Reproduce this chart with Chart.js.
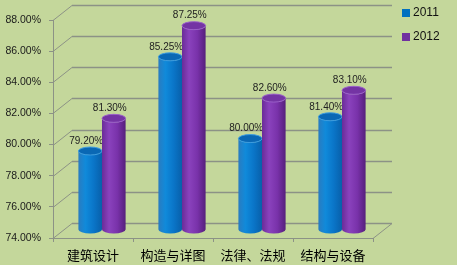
<!DOCTYPE html>
<html>
<head>
<meta charset="utf-8">
<script src="https://cdn.jsdelivr.net/npm/chart.js@4/dist/chart.umd.min.js"></script>
<style>
  html, body { margin: 0; padding: 0; background: #c4d79b; }
  #wrap { width: 457px; height: 265px; }
</style>
</head>
<body>
<div id="wrap"><canvas id="chart" width="457" height="265"></canvas></div>
<script>
var categories = ['建筑设计', '构造与详图', '法律、法规', '结构与设备'];
var years = ['2011', '2012'];
var values2011 = [79.20, 85.25, 80.00, 81.40];
var values2012 = [81.30, 87.25, 82.60, 83.10];
var yMin = 74, yMax = 88, yStep = 2;

// depth of the fake 3d box and where the bars sit inside it
var depth = { dx: 19, dy: -15 };
var barShift = { dx: 9, dy: -6 };

var shades = [
  { stops: ['#2a7cc0', '#108ada', '#0a75c8', '#0860aa'], top: '#0a68b4', rim: '#3c9ce0' },
  { stops: ['#6a2c98', '#8a42bd', '#7932aa', '#561f7c'], top: '#7434a4', rim: '#9a60c9' }
];

var boxPlugin = {
  id: 'box3d',
  beforeDatasetsDraw: function (chart) {
    var ctx = chart.ctx, a = chart.chartArea, y = chart.scales.y;
    ctx.save();
    ctx.strokeStyle = '#8c9286';
    ctx.lineWidth = 1;
    for (var v = yMin; v <= yMax; v += yStep) {
      var py = Math.round(y.getPixelForValue(v)) + 0.5;
      ctx.beginPath();
      ctx.moveTo(a.left, py);
      ctx.lineTo(a.left + depth.dx, py + depth.dy);
      ctx.stroke();
      ctx.lineWidth = 1.6;
      ctx.beginPath();
      ctx.moveTo(a.left + depth.dx, py + depth.dy);
      ctx.lineTo(a.right + depth.dx, py + depth.dy);
      ctx.stroke();
      ctx.lineWidth = 1;
    }
    // right edge of the floor
    var fy = Math.round(y.getPixelForValue(yMin)) + 0.5;
    ctx.beginPath();
    ctx.moveTo(a.right, fy);
    ctx.lineTo(a.right + depth.dx, fy + depth.dy);
    ctx.stroke();
    ctx.restore();

    ctx.save();
    ctx.translate(barShift.dx, barShift.dy);
  },
  afterDatasetsDraw: function (chart) {
    var ctx = chart.ctx;
    chart.data.datasets.forEach(function (ds, di) {
      var meta = chart.getDatasetMeta(di);
      var sh = shades[di];
      meta.data.forEach(function (el, i) {
        var w = el.width, x = el.x, top = el.y, base = el.base - 2;
        var left = x - w / 2, rx = w / 2, ry = 4;
        var g = ctx.createLinearGradient(left, 0, left + w, 0);
        g.addColorStop(0, sh.stops[0]);
        g.addColorStop(0.3, sh.stops[1]);
        g.addColorStop(0.65, sh.stops[2]);
        g.addColorStop(1, sh.stops[3]);
        ctx.beginPath();
        ctx.moveTo(left, top);
        ctx.lineTo(left, base);
        ctx.ellipse(x, base, rx, ry, 0, Math.PI, 0, true);
        ctx.lineTo(left + w, top);
        ctx.ellipse(x, top, rx, ry, 0, 0, Math.PI, false);
        ctx.closePath();
        ctx.fillStyle = g;
        ctx.fill();

        ctx.beginPath();
        ctx.ellipse(x, top, rx, ry, 0, 0, Math.PI * 2);
        ctx.fillStyle = sh.top;
        ctx.fill();
        ctx.strokeStyle = sh.rim;
        ctx.lineWidth = 1;
        ctx.stroke();

        ctx.fillStyle = '#222';
        ctx.font = '10px "Liberation Sans", Arial, sans-serif';
        ctx.textAlign = 'center';
        ctx.textBaseline = 'middle';
        ctx.fillText(ds.data[i].toFixed(2) + '%', x - 4, top - 10);
      });
    });
    ctx.restore();

    // legend
    ctx.save();
    ctx.font = '12px "Liberation Sans", Arial, sans-serif';
    ctx.textBaseline = 'middle';
    ctx.textAlign = 'left';
    years.forEach(function (yr, k) {
      var ly = 13 + k * 24;
      ctx.fillStyle = k === 0 ? '#0070c0' : '#7030a0';
      ctx.fillRect(402, ly - 4, 8, 8);
      ctx.fillStyle = '#111';
      ctx.fillText(yr, 413, ly);
    });
    ctx.restore();
  }
};

new Chart(document.getElementById('chart'), {
  type: 'bar',
  data: {
    labels: categories,
    datasets: [
      { label: years[0], data: values2011, base: yMin, backgroundColor: 'rgba(0,0,0,0)' },
      { label: years[1], data: values2012, base: yMin, backgroundColor: 'rgba(0,0,0,0)' }
    ]
  },
  options: {
    responsive: false,
    animation: false,
    clip: false,
    categoryPercentage: 0.59,
    barPercentage: 1,
    layout: { padding: { left: 0, right: 84, top: 20, bottom: 0 } },
    plugins: { legend: { display: false }, tooltip: { enabled: false } },
    scales: {
      x: {
        afterFit: function (s) { s.height = 27; },
        grid: { display: true, drawOnChartArea: false, offset: true, tickLength: 4, color: '#8c9286' },
        border: { display: true, color: '#8c9286' },
        ticks: {
          color: '#000',
          padding: 5,
          font: { family: '"Noto Sans CJK SC", sans-serif', size: 13 }
        }
      },
      y: {
        min: yMin,
        max: yMax,
        afterFit: function (s) { s.width = 53; },
        grid: { display: true, drawOnChartArea: false, tickLength: 4, color: '#8c9286' },
        border: { display: true, color: '#8c9286' },
        ticks: {
          stepSize: yStep,
          padding: 8,
          color: '#1a1a1a',
          font: { family: '"Liberation Sans", Arial, sans-serif', size: 10.5 },
          callback: function (v) { return v.toFixed(2) + '%'; }
        }
      }
    }
  },
  plugins: [boxPlugin]
});
</script>
</body>
</html>
